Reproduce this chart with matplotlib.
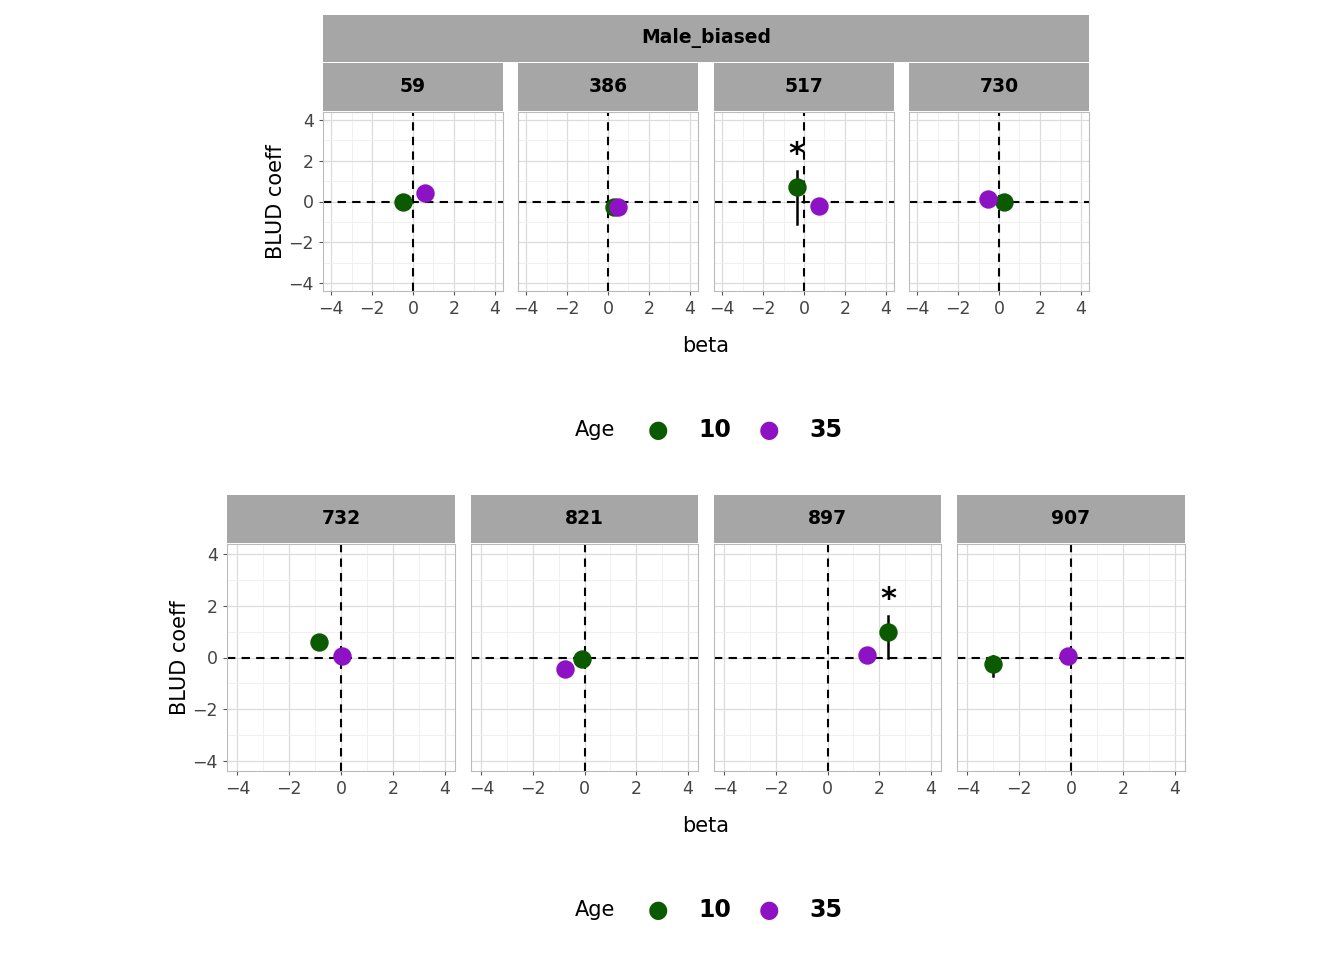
import matplotlib
matplotlib.use("Agg")
import matplotlib.pyplot as plt
from matplotlib.patches import Rectangle

W, H = 1344, 960
top_ids = ["59", "386", "517", "730"]
bot_ids = ["732", "821", "897", "907"]
# per panel: (beta, coeff, err_lo, err_hi, star) for age 10 and age 35
age10 = {"59": (-0.5, 0.0, 0.0, 0.0, False), "386": (0.3, -0.25, -0.25, -0.25, False),
         "517": (-0.35, 0.7, -1.1, 1.5, True), "730": (0.25, 0.0, 0.0, 0.0, False),
         "732": (-0.85, 0.6, 0.6, 0.6, False), "821": (-0.1, -0.05, -0.05, -0.05, False),
         "897": (2.35, 1.0, 0.0, 1.6, True), "907": (-3.0, -0.25, -0.7, 0.05, False)}
age35 = {"59": (0.6, 0.4), "386": (0.5, -0.25), "517": (0.75, -0.2), "730": (-0.55, 0.1),
         "732": (0.05, 0.05), "821": (-0.75, -0.45), "897": (1.55, 0.1), "907": (-0.1, 0.05)}
ticks = [-4, -2, 0, 2, 4]
GREEN, PURPLE = "#0b5a00", "#8c12c4"

fig = plt.figure(figsize=(13.44, 9.6), dpi=100)
fig.patch.set_facecolor("white")

def ax_at(x0, y0, x1, y1):
    return fig.add_axes([x0 / W, 1 - y1 / H, (x1 - x0) / W, (y1 - y0) / H])

def strip(x0, y0, x1, y1, text):
    a = ax_at(x0, y0, x1, y1)
    a.set_xlim(0, 1); a.set_ylim(0, 1); a.axis("off")
    a.add_patch(Rectangle((0, 0), 1, 1, color="#a6a6a6"))
    a.text(0.5, 0.5, text, ha="center", va="center", fontsize=13.5, fontweight="bold")

def panel(x0, y0, x1, y1, pid, showy):
    a = ax_at(x0, y0, x1, y1)
    a.set_xlim(-4.4, 4.4); a.set_ylim(-4.4, 4.4)
    a.set_xticks(ticks); a.set_yticks(ticks)
    a.set_xticks([-3, -1, 1, 3], minor=True); a.set_yticks([-3, -1, 1, 3], minor=True)
    a.grid(True, which="major", color="#dcdcdc", lw=0.9)
    a.grid(True, which="minor", color="#eeeeee", lw=0.6)
    for s in a.spines.values():
        s.set_color("#bbbbbb")
    a.tick_params(which="both", length=3, color="#555555", labelsize=12.5, labelcolor="#444444")
    a.tick_params(which="minor", length=0)
    if not showy:
        a.set_yticklabels([])
        a.tick_params(axis="y", length=0)
    a.axhline(0, color="black", ls="--", lw=1.5, dashes=(4, 3))
    a.axvline(0, color="black", ls="--", lw=1.5, dashes=(4, 3))
    b, c, lo, hi, st = age10[pid]
    a.plot([b, b], [lo, hi], color="black", lw=1.8, zorder=3)
    a.scatter([b], [c], s=150, color=GREEN, zorder=4)
    b2, c2 = age35[pid]
    a.scatter([b2], [c2], s=150, color=PURPLE, zorder=4)
    if st:
        a.text(b, max(hi, c) + 0.1, "*", ha="center", va="bottom", fontsize=22, fontweight="bold")
    return a

def legend(y):
    fig.text(595 / W, 1 - y / H, "Age", ha="center", va="center", fontsize=15)
    for xx, lab, col in [(658, "10", GREEN), (769, "35", PURPLE)]:
        fig.text(xx / W, 1 - y / H, "●", ha="center", va="center", fontsize=17, color=col)
        fig.text((xx + 40) / W, 1 - y / H, lab, ha="left", va="center", fontsize=17, fontweight="bold")

tx = [(323, 503), (518, 698), (714, 894), (909, 1089)]
strip(323, 15, 1089, 62, "Male_biased")
for i, (pid, (x0, x1)) in enumerate(zip(top_ids, tx)):
    strip(x0, 63, x1, 111, pid)
    a = panel(x0, 112, x1, 291, pid, i == 0)
    if i == 0:
        a.set_ylabel("BLUD coeff", fontsize=15, labelpad=2)
fig.text(706 / W, 1 - 346 / H, "beta", ha="center", va="center", fontsize=15)
legend(430)

bx = [(227, 455), (471, 698), (714, 941), (957, 1185)]
for i, (pid, (x0, x1)) in enumerate(zip(bot_ids, bx)):
    strip(x0, 495, x1, 543, pid)
    a = panel(x0, 544, x1, 771, pid, i == 0)
    if i == 0:
        a.set_ylabel("BLUD coeff", fontsize=15, labelpad=2)
fig.text(706 / W, 1 - 826 / H, "beta", ha="center", va="center", fontsize=15)
legend(910)

fig.savefig("out.png", dpi=100)
